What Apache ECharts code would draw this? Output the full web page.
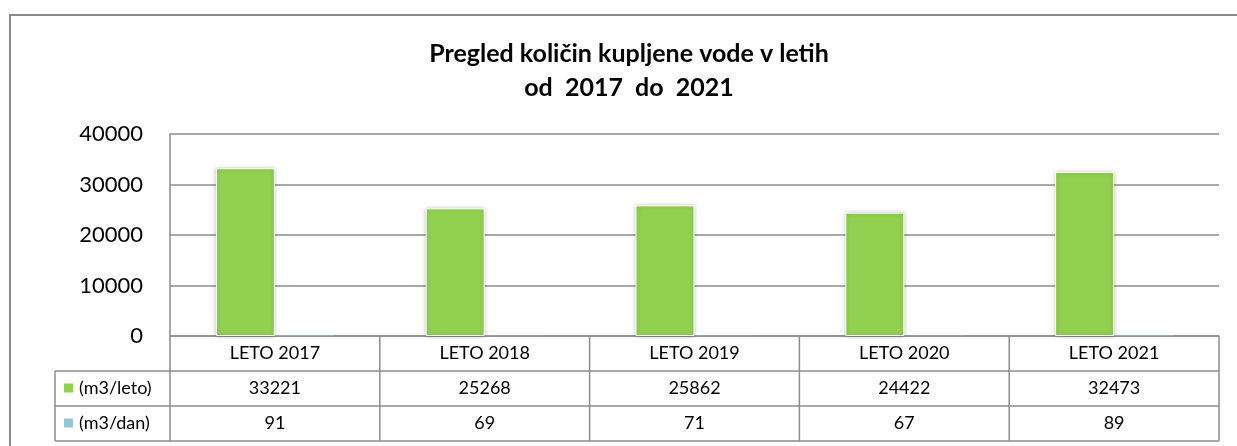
<!DOCTYPE html>
<html>
<head>
<meta charset="utf-8">
<script src="https://cdn.jsdelivr.net/npm/echarts@6/dist/echarts.min.js"></script>
<style>
  html, body { margin: 0; padding: 0; background: #fff; }
  #main { width: 1237px; height: 446px; }
</style>
</head>
<body>
<div id="main"></div>
<script>
// data
var categories = ['LETO 2017', 'LETO 2018', 'LETO 2019', 'LETO 2020', 'LETO 2021'];
var perYear = [33221, 25268, 25862, 24422, 32473];
var perDay = [91, 69, 71, 67, 89];
var seriesNames = ['(m3/leto)', '(m3/dan)'];
var seriesColors = ['#92d050', '#93c6d8'];

var lineColor = '#8c8c8c';
var font = 'Lato, "Open Sans", sans-serif';

// plot area / table layout
var plotL = 170, plotR = 1219, plotT = 134, plotB = 336;
var tableL = 55, rowH = 35;

function ShowTable() {
    var els = [];
    var colW = (plotR - plotL) / categories.length;
    function hline(y, x1, x2) {
        els.push({ type: 'line', shape: { x1: x1, y1: y, x2: x2, y2: y },
            style: { stroke: lineColor, lineWidth: 1.5 }, z: 10 });
    }
    function vline(x, y1, y2) {
        els.push({ type: 'line', shape: { x1: x, y1: y1, x2: x, y2: y2 },
            style: { stroke: lineColor, lineWidth: 1.5 }, z: 10 });
    }
    function cellText(txt, x, y, align) {
        els.push({ type: 'text', x: x, y: y, z: 11,
            style: { text: txt, font: '18px ' + font, fill: '#000',
                align: align || 'center', verticalAlign: 'middle' } });
    }
    // outer frame
    els.push({ type: 'rect', shape: { x: 10, y: 15, width: 1260, height: 460 },
        style: { fill: 'none', stroke: '#898989', lineWidth: 2 }, z: 1 });

    hline(plotB + rowH, tableL, plotR);
    hline(plotB + 2 * rowH, tableL, plotR);
    hline(plotB + 3 * rowH, tableL, plotR);
    vline(tableL, plotB + rowH, plotB + 3 * rowH);
    vline(plotL, plotB, plotB + 3 * rowH);
    for (var i = 1; i <= categories.length; i++) {
        vline(plotL + i * colW, plotB, plotB + 3 * rowH);
    }
    var rows = [perYear, perDay];
    for (var c = 0; c < categories.length; c++) {
        var cx = plotL + (c + 0.5) * colW;
        cellText(categories[c], cx, plotB + rowH / 2);
        for (var r = 0; r < rows.length; r++) {
            cellText(String(rows[r][c]), cx, plotB + (r + 1.5) * rowH);
        }
    }
    for (var r = 0; r < seriesNames.length; r++) {
        var cy = plotB + (r + 1.5) * rowH;
        els.push({ type: 'rect', shape: { x: 64, y: cy - 5, width: 9, height: 9 },
            style: { fill: seriesColors[r] }, z: 11 });
        cellText(seriesNames[r], 79, cy, 'left');
    }
    return els;
}

var myChart = echarts.init(document.getElementById('main'));
myChart.setOption({
    animation: false,
    title: {
        text: 'Pregled količin kupljene vode v letih\nod  2017  do  2021',
        left: 624,
        top: 32,
        textAlign: 'center',
        textStyle: {
            fontFamily: font,
            fontWeight: 'bold',
            fontSize: 25,
            lineHeight: 34,
            color: '#000'
        }
    },
    grid: {
        left: plotL,
        right: 1237 - plotR,
        top: plotT,
        bottom: 446 - plotB,
        containLabel: false
    },
    xAxis: {
        type: 'category',
        data: categories,
        axisLine: { show: true, lineStyle: { color: lineColor, width: 1.5 } },
        axisTick: { show: false },
        axisLabel: { show: false }
    },
    yAxis: {
        type: 'value',
        min: 0,
        max: 40000,
        interval: 10000,
        axisLine: { show: true, lineStyle: { color: lineColor, width: 1.5 } },
        axisTick: { show: false },
        axisLabel: {
            margin: 27,
            fontFamily: font,
            fontSize: 22,
            color: '#000',
            formatter: function (v) { return String(v); }
        },
        splitLine: { show: true, lineStyle: { color: lineColor, width: 1.5 } }
    },
    series: [
        {
            name: seriesNames[0],
            type: 'bar',
            data: perYear,
            barWidth: 59,
            barGap: '0%',
            itemStyle: {
                color: seriesColors[0],
                borderColor: '#fff',
                borderWidth: 1,
                shadowBlur: 4,
                shadowColor: 'rgba(0,0,0,0.25)'
            }
        },
        {
            name: seriesNames[1],
            type: 'bar',
            data: perDay,
            barWidth: 59,
            barGap: '0%',
            itemStyle: { color: seriesColors[1] }
        }
    ],
    graphic: ShowTable()
});
</script>
</body>
</html>
